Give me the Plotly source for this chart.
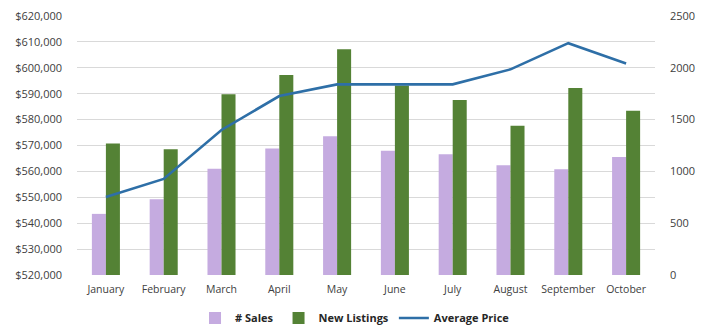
import plotly.graph_objects as go

months = ["January", "February", "March", "April", "May", "June",
          "July", "August", "September", "October"]
sales = [590, 730, 1025, 1220, 1340, 1200, 1165, 1060, 1020, 1140]
new_listings = [1270, 1215, 1745, 1930, 2180, 1830, 1690, 1440, 1805, 1585]
avg_price = [550100, 557100, 576000, 589100, 593600, 593600, 593600, 599400, 609500, 601700]

price_ticks = list(range(520000, 620001, 10000))
price_tick_text = [f"${v:,}" for v in price_ticks]
count_ticks = [0, 500, 1000, 1500, 2000, 2500]

PURPLE = "#c5abe0"
GREEN = "#548235"
BLUE = "#2e6fa7"
TEXT = "#404040"
FONT = "Open Sans"

fig = go.Figure()
fig.add_trace(go.Bar(x=months, y=sales, name="# Sales", marker_color=PURPLE,
                     marker_line_width=0, yaxis="y"))
fig.add_trace(go.Bar(x=months, y=new_listings, name="New Listings", marker_color=GREEN,
                     marker_line_width=0, yaxis="y"))
fig.add_trace(go.Scatter(x=months, y=avg_price, name="Average Price", mode="lines",
                         line=dict(color=BLUE, width=2.6), yaxis="y2"))

fig.update_layout(
    width=705, height=335,
    margin=dict(l=77, r=50, t=16, b=60, autoexpand=False),
    paper_bgcolor="white", plot_bgcolor="white",
    barmode="group", bargap=0.515, bargroupgap=0,
    font=dict(family=FONT, size=11, color=TEXT),
    xaxis=dict(showgrid=False, showline=False, ticks="", tickfont=dict(size=10.5),
               ticklabelstandoff=6, automargin=False),
    yaxis=dict(side="right", range=[0, 2500], tickvals=count_ticks, showgrid=False,
               zeroline=False, ticks="", ticklabelstandoff=14, automargin=False,
               tickfont=dict(size=11)),
    yaxis2=dict(side="left", overlaying="y", range=[520000, 620000],
                tickvals=price_ticks, ticktext=price_tick_text,
                showgrid=True, gridcolor="#d9d9d9", gridwidth=1, automargin=False,
                zeroline=False, ticks="", ticklabelstandoff=14,
                tickfont=dict(size=11)),
    legend=dict(orientation="h", x=0.481, xanchor="center", y=-0.166, yanchor="middle",
                font=dict(size=11, color="#262626", weight="bold"), traceorder="normal",
                itemwidth=30),
    showlegend=True,
)

fig.write_html("out.html")
